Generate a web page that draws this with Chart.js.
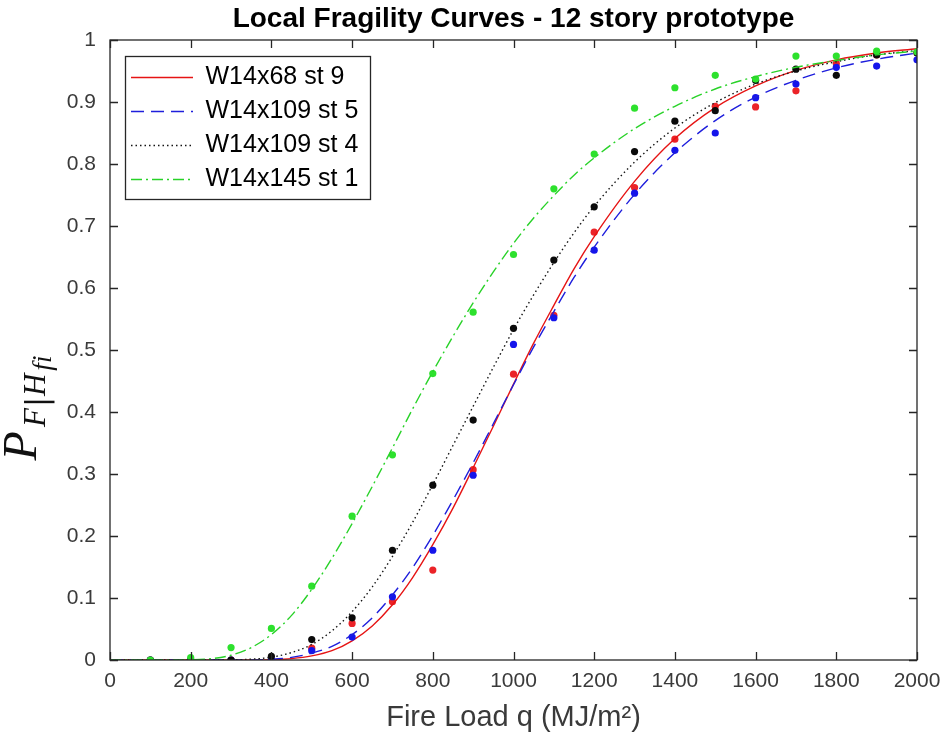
<!DOCTYPE html>
<html>
<head>
<meta charset="utf-8">
<script src="https://cdn.jsdelivr.net/npm/chart.js@4.4.1/dist/chart.umd.min.js"></script>
<style>
  html, body { margin: 0; padding: 0; background: #fff; }
</style>
</head>
<body>
<canvas id="fragility" width="950" height="735"></canvas>
<script>
// fire load (MJ/m2) for the simulated points
const pointLoad = [100, 200, 300, 400, 500, 600, 700, 800, 900, 1000, 1100, 1200, 1300, 1400, 1500, 1600, 1700, 1800, 1900, 2000];

// simulated probability of failure
const redPts   = [0, 0, 0, 0, 0.019, 0.059, 0.094, 0.145, 0.307, 0.461, 0.556, 0.690, 0.762, 0.840, 0.893, 0.892, 0.918, 0.962, 0.976, 0.980];
const bluePts  = [0, 0, 0, 0, 0.015, 0.037, 0.102, 0.177, 0.298, 0.509, 0.552, 0.661, 0.753, 0.822, 0.850, 0.907, 0.929, 0.956, 0.958, 0.968];
const blackPts = [0, 0, 0, 0.006, 0.033, 0.068, 0.177, 0.282, 0.387, 0.535, 0.645, 0.731, 0.820, 0.869, 0.886, 0.935, 0.953, 0.943, 0.976, 0.979];
const greenPts = [0, 0.004, 0.020, 0.051, 0.119, 0.232, 0.331, 0.462, 0.561, 0.654, 0.760, 0.816, 0.890, 0.923, 0.943, 0.937, 0.974, 0.974, 0.982, 0.981];

// fitted fragility curves, sampled off the figure
const curveLoad = [0, 100, 200, 250, 300, 350, 400, 450, 500, 550, 600, 650, 700, 750, 800, 850, 900, 950, 1000, 1050, 1100, 1150, 1200, 1300, 1400, 1500, 1600, 1700, 1800, 1900, 2000];
const redCurve   = [0, 0, 0, 0, 0, 0.0001, 0.0006, 0.0023, 0.0066, 0.015, 0.031, 0.055, 0.089, 0.133, 0.186, 0.245, 0.310, 0.377, 0.445, 0.511, 0.572, 0.631, 0.683, 0.772, 0.841, 0.891, 0.926, 0.951, 0.968, 0.979, 0.986];
const blueCurve  = [0, 0, 0, 0, 0, 0.0002, 0.0013, 0.0042, 0.011, 0.022, 0.041, 0.068, 0.105, 0.149, 0.201, 0.258, 0.318, 0.381, 0.444, 0.505, 0.562, 0.617, 0.666, 0.751, 0.818, 0.870, 0.908, 0.935, 0.955, 0.969, 0.979];
const blackCurve = [0, 0, 0, 0, 0.0003, 0.0013, 0.0045, 0.012, 0.025, 0.047, 0.078, 0.118, 0.167, 0.222, 0.283, 0.346, 0.409, 0.472, 0.533, 0.589, 0.641, 0.689, 0.732, 0.803, 0.858, 0.899, 0.929, 0.950, 0.965, 0.976, 0.983];
const greenCurve = [0, 0, 0.0004, 0.0021, 0.0077, 0.020, 0.041, 0.072, 0.114, 0.164, 0.220, 0.280, 0.342, 0.405, 0.465, 0.522, 0.576, 0.626, 0.672, 0.713, 0.749, 0.782, 0.810, 0.857, 0.893, 0.921, 0.941, 0.956, 0.967, 0.976, 0.982];

const seriesNames = ['W14x68 st 9', 'W14x109 st 5', 'W14x109 st 4', 'W14x145 st 1'];
const xTicks = [0, 200, 400, 600, 800, 1000, 1200, 1400, 1600, 1800, 2000];

const FONT = '"Liberation Sans", Arial, sans-serif';
const AXIS_GRAY = '#3a3a3a';
const LEGEND_SHIFT = { x: 12, y: 16 };

function pairs(xs, ys) {
  return xs.map((x, i) => ({ x: x, y: ys[i] }));
}

const styles = [
  { line: 'rgb(230,20,20)',  dot: 'rgb(235,35,40)',  dash: [] },
  { line: 'rgb(30,30,220)',  dot: 'rgb(20,20,235)',  dash: [13, 7] },
  { line: 'rgb(20,20,20)',   dot: 'rgb(10,10,10)',   dash: [1.5, 3] },
  { line: 'rgb(40,210,40)',  dot: 'rgb(45,225,45)',  dash: [11, 4, 2, 4] },
];
const curves = [redCurve, blueCurve, blackCurve, greenCurve];
const points = [redPts, bluePts, blackPts, greenPts];

const datasets = [];
// curves first (legend entries), then the scatter points
curves.forEach((c, i) => {
  datasets.push({
    type: 'line',
    label: seriesNames[i],
    data: pairs(curveLoad, c),
    borderColor: styles[i].line,
    backgroundColor: styles[i].line,
    borderWidth: 1.4,
    borderDash: styles[i].dash,
    pointRadius: 0,
    fill: false,
    cubicInterpolationMode: 'monotone',
    order: 7 - 2 * i,
  });
});
points.forEach((p, i) => {
  datasets.push({
    type: 'scatter',
    label: seriesNames[i] + ' data',
    data: pairs(pointLoad, p),
    backgroundColor: styles[i].dot,
    borderColor: styles[i].dot,
    pointRadius: 3.6,
    pointBorderWidth: 0,
    order: 8 - 2 * i,
  });
});

// box around the axes, inward ticks on all four sides, legend frame and y label
const framePlugin = {
  id: 'frame',
  afterLayout(chart) {
    chart.legend.left = chart.chartArea.left + LEGEND_SHIFT.x;
    chart.legend.top = chart.chartArea.top + LEGEND_SHIFT.y;
  },
  afterDraw(chart) {
    const { ctx, chartArea: a, scales } = chart;
    ctx.save();
    ctx.strokeStyle = '#262626';
    ctx.lineWidth = 1.3;
    ctx.strokeRect(a.left, a.top, a.right - a.left, a.bottom - a.top);

    const tl = 8;
    ctx.beginPath();
    scales.x.ticks.forEach(t => {
      const px = Math.round(scales.x.getPixelForValue(t.value)) + 0.5;
      ctx.moveTo(px, a.bottom); ctx.lineTo(px, a.bottom - tl);
      ctx.moveTo(px, a.top); ctx.lineTo(px, a.top + tl);
    });
    scales.y.ticks.forEach(t => {
      const py = Math.round(scales.y.getPixelForValue(t.value)) + 0.5;
      ctx.moveTo(a.left, py); ctx.lineTo(a.left + tl, py);
      ctx.moveTo(a.right, py); ctx.lineTo(a.right - tl, py);
    });
    ctx.stroke();

    // legend frame
    const lg = chart.legend;
    const hb = lg.legendHitBoxes;
    if (hb && hb.length) {
      const pad = lg.options.labels.padding;
      const fs = lg.options.labels.font.size;
      const x0 = lg.left + pad - 6;
      const y0 = lg.top;
      const x1 = lg.left + pad + Math.max(...hb.map(h => h.width)) + 12;
      const y1 = lg.top + pad + hb.length * (fs + pad) - pad + 7;
      ctx.lineWidth = 1.3;
      ctx.strokeStyle = '#262626';
      ctx.strokeRect(Math.round(x0) + 0.5, Math.round(y0) + 0.5, Math.round(x1 - x0), Math.round(y1 - y0));
    }

    // y-axis label: P with subscript F|H fi, rotated
    const midY = (a.top + a.bottom) / 2 + 58;
    ctx.translate(36, midY);
    ctx.rotate(-Math.PI / 2);
    ctx.fillStyle = '#111';
    ctx.textBaseline = 'alphabetic';
    const big = 'italic 48px "Liberation Serif", serif';
    const sub = 'italic 31px "Liberation Serif", serif';
    const sub2 = 'italic 27px "Liberation Serif", serif';
    const parts = [
      { t: 'P', f: big, dy: 0, gap: 4 },
      { t: 'F', f: sub, dy: 9, gap: 1 },
      { t: '|', f: '30px "DejaVu Sans", sans-serif', dy: 11, gap: 1 },
      { t: 'H', f: sub, dy: 9, gap: 3 },
      { t: 'fi', f: sub2, dy: 15, gap: 0 },
    ];
    let total = 0;
    parts.forEach(p => { ctx.font = p.f; p.w = ctx.measureText(p.t).width; total += p.w + p.gap; });
    let u = -total / 2;
    parts.forEach(p => { ctx.font = p.f; ctx.fillText(p.t, u, p.dy); u += p.w + p.gap; });
    ctx.restore();
  }
};

new Chart(document.getElementById('fragility').getContext('2d'), {
  data: { datasets: datasets },
  options: {
    responsive: false,
    animation: false,
    layout: { padding: { left: 0, right: 33, top: 0, bottom: 0 } },
    scales: {
      x: {
        type: 'linear',
        min: 0,
        max: 2000,
        afterBuildTicks: s => { s.ticks = xTicks.map(v => ({ value: v })); },
        ticks: {
          color: AXIS_GRAY,
          font: { family: FONT, size: 21 },
          padding: 9,
          maxRotation: 0,
          callback: v => String(v),
        },
        grid: { display: false, drawTicks: false },
        border: { display: false },
        title: {
          display: true,
          text: 'Fire Load q (MJ/m²)',
          color: AXIS_GRAY,
          font: { family: FONT, size: 29 },
          padding: { top: 0, bottom: 0 },
        },
        afterFit: s => { s.height = 75; },
      },
      y: {
        type: 'linear',
        min: 0,
        max: 1,
        ticks: {
          stepSize: 0.1,
          color: AXIS_GRAY,
          font: { family: FONT, size: 21 },
          padding: 14,
          callback: v => String(+v.toFixed(1)),
        },
        grid: { display: false, drawTicks: false },
        border: { display: false },
        afterFit: s => { s.width = 110; },
      },
    },
    plugins: {
      title: {
        display: true,
        text: 'Local Fragility Curves - 12 story prototype',
        color: '#000',
        fullSize: false,
        font: { family: FONT, size: 28, weight: 'bold' },
        padding: { top: 2, bottom: 4.4 },
      },
      legend: {
        position: 'chartArea',
        align: 'start',
        labels: {
          color: '#111',
          font: { family: FONT, size: 25 },
          padding: 9,
          usePointStyle: true,
          pointStyleWidth: 62,
          filter: item => item.datasetIndex < 4,
          sort: (a, b) => a.datasetIndex - b.datasetIndex,
          generateLabels: chart => chart.data.datasets.map((d, i) => ({
            text: d.label,
            fillStyle: d.borderColor,
            strokeStyle: d.borderColor,
            lineWidth: 1.4,
            lineDash: d.borderDash || [],
            pointStyle: 'line',
            hidden: false,
            datasetIndex: i,
          })),
        },
      },
      tooltip: { enabled: false },
    },
  },
  plugins: [framePlugin],
});
</script>
</body>
</html>
